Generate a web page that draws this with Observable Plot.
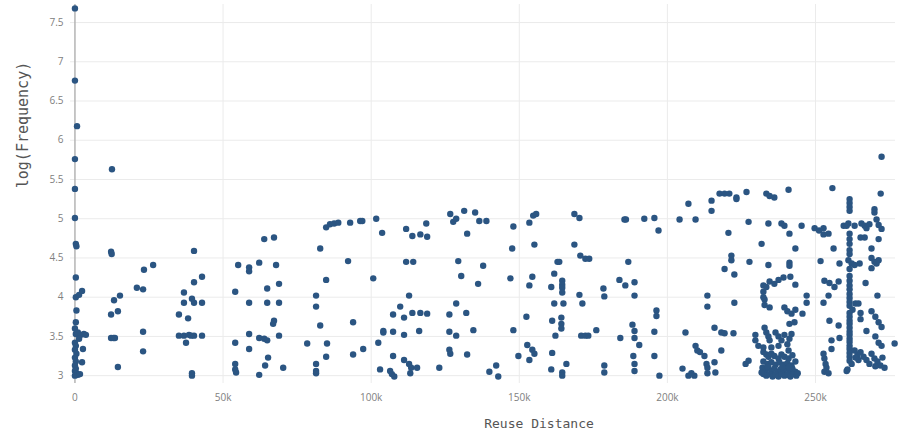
<!DOCTYPE html>
<html><head><meta charset="utf-8">
<script src="https://cdn.jsdelivr.net/npm/d3@7"></script>
<script src="https://cdn.jsdelivr.net/npm/@observablehq/plot@0.6"></script>
<style>body{margin:0;background:#fff} #chart{width:901px;height:433px}</style>
</head><body><div id="chart"></div>
<script>
// [reuse distance in thousands, log(frequency)]
const nearZero = [[0,7.68],[0,6.76],[0.7,6.18],[0,5.76],[0,5.38],[0,5.01],[0.3,4.68],[0.5,4.65],[0.3,4.25],[0.3,4.0],[1.4,4.03],[2.4,4.08],[0.5,3.83],[0.3,3.68],[0,3.6],[0.3,3.53],[1.0,3.55],[2.0,3.52],[3.0,3.53],[3.7,3.52],[1.4,3.47],[2.7,3.34],[0,3.42],[0.3,3.38],[0,3.33],[0.5,3.28],[0,3.23],[0.3,3.18],[2.4,3.17],[0,3.13],[0.3,3.09],[0,3.06],[0.5,3.03],[1.0,3.01],[0,3.0],[1.7,3.02]];
const from12k = [[12.5,5.63],[12.2,4.58],[12.4,4.55],[13.2,3.96],[15.2,4.02],[12.2,3.78],[14.5,3.82],[12.2,3.48],[13.0,3.48],[13.5,3.48],[14.5,3.11],[20.9,4.12],[23.0,4.10],[23.3,4.35],[26.4,4.41],[23.0,3.56],[23.0,3.31]];
const from35k = [[35.1,3.78],[36.8,4.06],[36.8,3.93],[38.2,3.73],[35.1,3.51],[36.8,3.51],[38.5,3.52],[39.2,3.51],[37.5,3.42],[40.2,4.59],[40.2,4.19],[42.9,4.26],[39.5,3.98],[40.2,3.93],[42.9,3.93],[40.2,3.51],[42.9,3.51],[39.5,3.0],[39.5,3.03]];
const from54k = [[54.1,4.07],[55.1,4.41],[54.1,3.42],[54.1,3.15],[54.1,3.08],[54.4,3.04],[58.8,4.38],[58.8,4.33],[58.8,3.93],[58.8,3.53],[58.8,3.34],[62.2,4.44],[63.9,4.74],[67.2,4.76],[64.9,4.11],[64.9,3.93],[67.9,4.41],[68.9,4.17],[68.9,3.93],[67.2,3.70],[66.9,3.66],[62.2,3.48],[63.9,3.47],[64.9,3.45],[68.9,3.51],[65.2,3.23],[64.2,3.13],[62.2,3.01],[70.3,3.10]];
const from78k = [[78.4,3.41],[81.4,4.02],[81.4,3.88],[81.4,3.15],[81.4,3.06],[81.4,3.03],[82.8,3.64],[82.8,4.62],[84.8,4.22],[85.1,3.41],[84.8,3.24],[84.8,4.89],[86.1,4.93],[87.5,4.94],[88.9,4.95],[92.9,4.95],[92.2,4.46],[93.9,3.68],[93.9,3.27],[96.3,4.97]];
const from97k = [[97.0,4.97],[101.7,5.0],[103.7,4.82],[111.8,4.87],[113.9,4.78],[116.6,4.80],[118.6,4.94],[118.9,4.77],[100.7,4.24],[111.8,4.45],[114.2,4.45],[112.8,4.02],[109.8,3.88],[107.4,3.78],[111.1,3.74],[113.9,3.80],[116.6,3.80],[118.9,3.79],[104.1,3.57],[104.1,3.55],[107.4,3.56],[111.1,3.52],[116.2,3.57],[102.4,3.42],[97.3,3.34],[107.4,3.25],[111.1,3.20],[103.0,3.08],[106.4,3.06],[107.0,3.02],[107.8,2.99],[112.8,3.15],[113.5,3.10],[113.2,3.03],[115.5,3.10]];
const from123k = [[123.0,3.10],[126.7,5.06],[127.7,4.96],[128.7,5.0],[131.4,5.10],[135.1,5.08],[136.5,4.97],[138.9,4.97],[132.4,4.81],[129.4,4.46],[130.4,4.27],[136.1,4.17],[137.8,4.40],[128.7,3.92],[126.4,3.78],[132.1,3.80],[126.4,3.56],[128.7,3.51],[134.5,3.58],[126.4,3.33],[126.7,3.28],[132.4,3.27],[139.9,3.05],[142.2,3.13],[142.9,2.99]];
const from147k = [[148.0,4.90],[147.6,4.62],[153.4,4.95],[154.7,5.04],[155.7,5.06],[155.1,4.67],[147.0,4.24],[153.4,4.15],[154.4,4.26],[152.4,3.75],[148.0,3.58],[152.7,3.39],[149.7,3.25],[154.4,3.33],[155.1,3.28],[153.4,3.20],[168.6,5.06],[170.3,5.01],[168.6,4.67],[170.6,4.53],[172.3,4.49],[173.6,4.49],[162.9,4.45],[163.5,4.45],[161.8,4.30],[160.8,4.13],[164.5,4.21],[164.5,4.16],[164.5,4.12],[164.5,4.06],[161.8,3.92],[164.9,3.92],[170.3,4.03],[171.3,3.92],[161.1,3.70],[164.2,3.74],[164.2,3.66],[164.2,3.60],[162.2,3.51],[161.1,3.29],[165.9,3.15],[160.8,3.08],[164.5,3.04],[164.5,3.0],[170.9,3.51],[172.3,3.51],[173.3,3.51],[176.0,3.58]];
const from176k = [[178.4,4.11],[178.7,4.01],[178.7,3.13],[178.7,3.04],[183.8,4.22],[185.8,4.15],[188.9,4.19],[188.9,4.02],[185.5,4.99],[186.0,4.99],[186.8,4.45],[184.1,3.48],[188.2,3.65],[188.9,3.57],[188.9,3.48],[190.5,3.39],[188.5,3.25],[188.9,3.15],[188.9,3.06],[192.2,5.0],[195.6,5.01],[197.0,4.85],[196.3,3.83],[196.3,3.76],[195.6,3.56],[195.6,3.25],[197.3,3.0]];
const from203k = [[204.1,4.99],[209.5,4.99],[207.1,5.19],[214.9,5.23],[214.9,5.10],[217.6,5.32],[219.3,5.32],[220.9,5.32],[223.3,5.27],[223.3,5.25],[226.7,5.34],[220.6,4.82],[227.4,4.96],[227.7,4.45],[221.6,4.53],[221.6,4.47],[219.3,4.36],[222.6,4.29],[213.5,4.02],[213.5,3.88],[222.6,3.93],[215.9,3.61],[218.2,3.55],[219.3,3.54],[222.3,3.54],[206.1,3.55],[209.5,3.38],[210.1,3.32],[211.0,3.30],[212.5,3.25],[213.2,3.15],[213.5,3.10],[213.5,3.03],[215.9,3.17],[216.2,3.04],[205.1,3.09],[207.1,3.0],[209.1,3.0],[208.1,3.03],[218.2,3.32],[227.4,3.19],[226.4,3.15],[229.7,3.45],[229.7,3.52]];
const from231k = [[233.4,5.32],[234.5,5.29],[236.1,5.27],[240.9,5.37],[234.1,4.94],[238.5,4.94],[239.5,4.91],[241.2,4.81],[243.2,4.62],[231.8,4.68],[234.1,4.41],[241.2,4.44],[241.2,4.40],[241.5,4.26],[239.2,4.25],[237.5,4.22],[236.1,4.17],[234.5,4.20],[232.4,4.15],[232.4,4.07],[232.4,4.0],[233.4,4.13],[243.2,4.16],[232.8,3.97],[232.8,3.90],[234.5,3.87],[239.5,3.87],[240.5,3.82],[241.9,3.79],[243.2,3.84],[241.2,3.66],[241.9,3.53],[242.9,3.68],
 [232.8,3.61],[233.4,3.55],[234.1,3.50],[234.5,3.45],[236.5,3.55],[237.5,3.50],[238.5,3.45],[239.5,3.52],[240.5,3.40],[241.2,3.47],[230.7,3.38],[232.4,3.36],[235.1,3.36],[237.5,3.38],[240.9,3.32],
 [232.4,3.30],[233.4,3.27],[234.1,3.24],[235.1,3.28],[236.1,3.25],[237.5,3.22],[238.5,3.27],[239.5,3.24],[240.9,3.22],[242.2,3.26],[232.4,3.18],[233.8,3.15],[235.1,3.17],[236.5,3.14],[237.8,3.17],[239.2,3.14],[240.5,3.16],[241.9,3.13],[243.2,3.18],[232.1,3.10],[233.1,3.07],[234.1,3.10],[235.1,3.06],[236.1,3.09],[237.1,3.05],[238.2,3.08],[239.2,3.05],[240.2,3.09],[241.2,3.06],[242.2,3.09],[243.2,3.05],[232.4,3.02],[233.4,3.0],[234.5,3.02],[235.5,2.99],[236.5,3.01],[237.5,2.99],[238.5,3.02],[239.5,3.0],[240.5,3.01],[241.5,2.99],[242.5,3.02],[243.5,3.0],[231.8,3.04],[244.0,3.03],[233.8,3.12],[238.8,3.11],[241.0,3.11]];
const from245k = [[245.3,4.91],[249.7,4.88],[251.2,4.85],[252.7,4.88],[254.4,4.81],[252.7,4.80],[255.7,5.39],[256.1,4.62],[251.7,4.46],[258.1,4.43],[253.0,4.21],[254.7,4.18],[256.4,4.13],[257.8,4.20],[247.0,4.02],[247.0,3.93],[252.7,3.93],[254.4,4.02],[245.6,3.79],[254.7,3.70],[257.8,3.64],[255.4,3.45],[258.1,3.48],[252.7,3.28],[253.0,3.22],[253.4,3.15],[253.7,3.10],[253.0,3.05],[254.4,3.03],[255.4,3.34],[260.5,3.06]];
const from261k = [[261.5,5.25],[261.5,5.20],[261.5,5.15],[261.5,5.10],[261.1,4.94],[259.5,4.91],[260.5,4.91],[263.2,4.91],[261.5,4.81],[261.5,4.74],[261.5,4.68],[261.5,4.60],[261.5,4.55],[261.1,4.47],[262.2,4.43],[263.2,4.41],[261.5,4.36],[261.5,4.27],[261.5,4.21],[261.5,4.15],[261.5,4.10],[261.5,4.04],[261.5,3.99],[261.5,3.94],[261.5,3.89],[262.5,3.84],[261.5,3.80],[261.5,3.75],[261.5,3.70],[261.5,3.66],[261.5,3.61],[261.5,3.56],[261.5,3.52],[261.5,3.47],[261.5,3.43],[261.5,3.38],[261.5,3.34],[261.5,3.29],[261.5,3.24],[261.5,3.19],[262.2,3.15],[260.8,3.08],[263.5,3.92],[264.5,3.92],[263.2,3.32],[264.2,3.27],[265.2,3.30],[264.5,3.20],[263.5,3.23]];
const from264k = [[265.5,4.94],[266.6,4.91],[267.2,4.88],[268.2,4.93],[265.2,4.76],[266.6,4.76],[264.9,4.43],[268.9,4.50],[269.9,4.45],[270.6,4.43],[271.3,4.47],[268.9,4.37],[269.9,5.12],[269.9,5.08],[270.6,4.99],[271.3,4.92],[272.3,4.87],[271.3,4.74],[272.3,5.79],[272.0,5.32],[268.9,4.62],[266.9,4.18],[270.9,4.02],[265.2,3.80],[265.2,3.72],[268.9,3.82],[270.2,3.75],[271.3,3.68],[272.3,3.62],[267.2,3.57],[270.2,3.50],[271.3,3.42],[272.3,3.38],[276.7,3.41],[268.9,3.28],[269.9,3.22],[270.9,3.18],[271.9,3.13],[272.6,3.23],[273.3,3.10],[270.2,3.12],[267.2,3.20],[266.2,3.24],[268.2,3.15]];

const xTicks = [0, 50000, 100000, 150000, 200000, 250000];
const xTickLabels = ["0", "50k", "100k", "150k", "200k", "250k"];
const yTicks = [3, 3.5, 4, 4.5, 5, 5.5, 6, 6.5, 7, 7.5];
const yTickLabels = ["3", "3.5", "4", "4.5", "5", "5.5", "6", "6.5", "7", "7.5"];
const xTitle = "Reuse Distance";
const yTitle = "log(Frequency)";

const points = [nearZero, from12k, from35k, from54k, from78k, from97k, from123k, from147k, from176k, from203k, from231k, from245k, from261k, from264k]
  .flat().map(([k, y]) => ({distance: k * 1000, logFreq: y}));
const xLab = new Map(xTicks.map((t, i) => [t, xTickLabels[i]]));
const yLab = new Map(yTicks.map((t, i) => [t, yTickLabels[i]]));
const mono = "'DejaVu Sans Mono', 'Liberation Mono', monospace";

const chart = Plot.plot({
  width: 901, height: 433,
  marginLeft: 70, marginRight: 6, marginTop: 4, marginBottom: 50,
  style: {background: "#fff", fontFamily: "'Open Sans', sans-serif"},
  x: {domain: [-1500, 277000]},
  y: {domain: [2.9, 7.73]},
  marks: [
    Plot.gridX(xTicks.slice(1), {stroke: "#ebebeb", strokeOpacity: 1}),
    Plot.gridY(yTicks, {stroke: "#ebebeb", strokeOpacity: 1}),
    Plot.ruleX([0], {stroke: "#b4b4b4", strokeWidth: 1.5}),
    Plot.axisX(xTicks, {tickFormat: d => xLab.get(d), tickSize: 0, tickPadding: 10, fontSize: 10, fill: "#808080", label: null}),
    Plot.axisY(yTicks, {tickFormat: d => yLab.get(d), tickSize: 0, tickPadding: 7, fontSize: 10, fill: "#808080", label: null}),
    Plot.dot(points, {x: "distance", y: "logFreq", r: 3.2, fill: "#2b5582"}),
    Plot.text([xTitle], {frameAnchor: "bottom", lineAnchor: "middle", textAnchor: "middle", dx: 56, dy: 40, fontFamily: mono, fontSize: 13, fill: "#555"}),
    Plot.text([yTitle], {frameAnchor: "left", lineAnchor: "middle", textAnchor: "middle", rotate: -90, dx: -47, dy: -69, fontFamily: mono, fontSize: 15, fill: "#555"})
  ]
});
document.getElementById("chart").append(chart);
</script></body></html>
